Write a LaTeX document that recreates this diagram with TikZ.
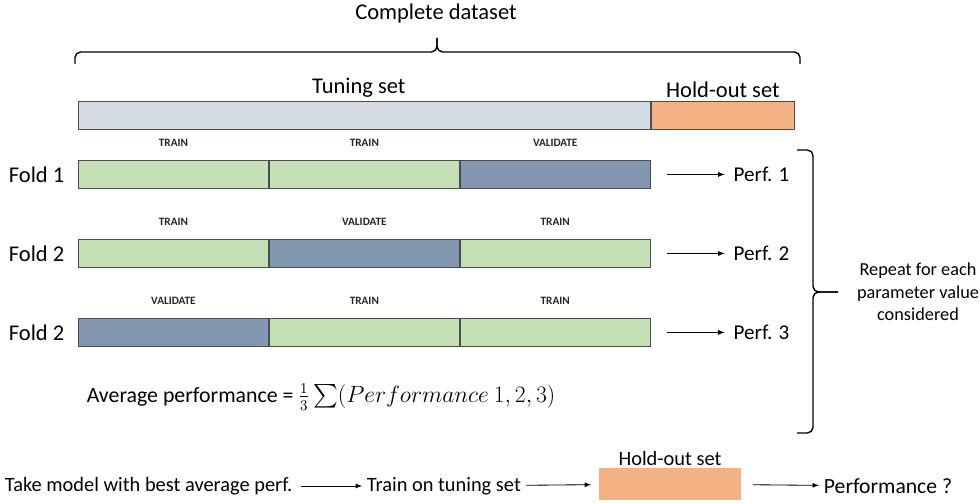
\documentclass[tikz,border=0pt]{standalone}
\usepackage{amsmath}
\usepackage{fontspec}
\setmainfont{Carlito}
\usepackage{tikz}
\usetikzlibrary{positioning,arrows,decorations.pathreplacing,shapes}

\definecolor{tuninggray}{HTML}{D6DCE5}
\definecolor{holdorange}{HTML}{F4B183}
\definecolor{traingreen}{HTML}{C5E0B4}
\definecolor{validblue}{HTML}{8497B0}

\tikzset{
  seg/.style={draw=black!70, line width=0.6pt, minimum height=0.7cm, minimum width=4.75cm, inner sep=0pt, anchor=north west},
  trn/.style={seg, fill=traingreen},
  vld/.style={seg, fill=validblue},
  segtag/.style={font=\bfseries\fontsize{8}{9}\selectfont, text=black!85},
  biglbl/.style={font=\fontsize{16}{19}\selectfont},
  midlbl/.style={font=\fontsize{14.5}{17}\selectfont},
  smalllbl/.style={font=\fontsize{13}{16}\selectfont, align=center},
  flow/.style={-latex, line width=0.6pt},
  curly/.style={line width=1pt, rounded corners=4pt}
}

\begin{document}
\begin{tikzpicture}[x=0.025cm,y=-0.025cm]
				\useasboundingbox (0,0) rectangle (980,504);
				% whole data set and its split
				\node[biglbl] (whole) at (436,14) {Complete dataset};
				\draw[curly] (75,64) -- (75,52) -- (437,52) -- (437,38);
				\draw[curly] (437,38) -- (437,52) -- (800,52) -- (800,64);
				\node[seg, fill=tuninggray, minimum width=14.3cm] (tune) at (78,101) {};
				\node[seg, fill=holdorange, minimum width=3.575cm, anchor=west] (hold) at (tune.east) {};
				\node[biglbl, above=-1pt of tune, xshift=-4pt] {Tuning set};
				\node[biglbl, above=-1pt of hold] {Hold-out set};
				% fold 1
				\node[trn] (f1a) at (78,160) {};
				\node[trn, right=0pt of f1a] (f1b) {};
				\node[vld, right=0pt of f1b] (f1c) {};
				\node[segtag, above=0.22cm of f1a] {TRAIN};
				\node[segtag, above=0.22cm of f1b] {TRAIN};
				\node[segtag, above=0.22cm of f1c] {VALIDATE};
				\node[biglbl, left=0.22cm of f1a] {Fold 1};
				% fold 2
				\node[trn] (f2a) at (78,239) {};
				\node[vld, right=0pt of f2a] (f2b) {};
				\node[trn, right=0pt of f2b] (f2c) {};
				\node[segtag, above=0.22cm of f2a] {TRAIN};
				\node[segtag, above=0.22cm of f2b] {VALIDATE};
				\node[segtag, above=0.22cm of f2c] {TRAIN};
				\node[biglbl, left=0.22cm of f2a] {Fold 2};
				% fold 3
				\node[vld] (f3a) at (78,318) {};
				\node[trn, right=0pt of f3a] (f3b) {};
				\node[trn, right=0pt of f3b] (f3c) {};
				\node[segtag, above=0.22cm of f3a] {VALIDATE};
				\node[segtag, above=0.22cm of f3b] {TRAIN};
				\node[segtag, above=0.22cm of f3c] {TRAIN};
				\node[biglbl, left=0.22cm of f3a] {Fold 2};
				% scores of the folds
				\node[midlbl, font=\fontsize{15}{18}\selectfont, right=1.95cm of f1c] (p1) {Perf. 1};
				\node[midlbl, font=\fontsize{15}{18}\selectfont, right=1.95cm of f2c] (p2) {Perf. 2};
				\node[midlbl, font=\fontsize{15}{18}\selectfont, right=1.95cm of f3c] (p3) {Perf. 3};
				\draw[flow, shorten >=0.1cm] ([xshift=0.42cm]f1c.east) -- (p1);
				\draw[flow, shorten >=0.1cm] ([xshift=0.42cm]f2c.east) -- (p2);
				\draw[flow, shorten >=0.1cm] ([xshift=0.42cm]f3c.east) -- (p3);
				\draw[curly] (797,150) -- (813,150) -- (813,292) -- (838,292);
				\draw[curly] (797,433) -- (813,433) -- (813,292) -- (838,292);
				\node[smalllbl] (repeat) at (918,292) {Repeat for each\\parameter value\\considered};
				\node[biglbl, scale=0.97, transform shape] (avg) at (321,397) {Average performance = $\frac{1}{3}\sum(Performance\ 1,2,3)$};
				% final model
				\node[midlbl, anchor=west] (best) at (0,486) {Take model with best average perf.};
				\node[midlbl, anchor=west] (retrain) at (362,486) {Train on tuning set};
				\node[seg, fill=holdorange, draw=none, minimum width=3.525cm, minimum height=0.8cm, anchor=center] (test) at (670,484) {};
				\node[midlbl, above=-2pt of test] {Hold-out set};
				\node[midlbl, font=\fontsize{15.4}{18}\selectfont, anchor=west] (final) at (819,486) {Performance ?};
				\draw[flow, shorten <=0.1cm] (best) -- (retrain);
				\draw[flow, shorten >=0.2cm] (retrain) -- (test);
				\draw[flow, shorten <=0.3cm] (test) -- (final);
			\end{tikzpicture}
\end{document}
